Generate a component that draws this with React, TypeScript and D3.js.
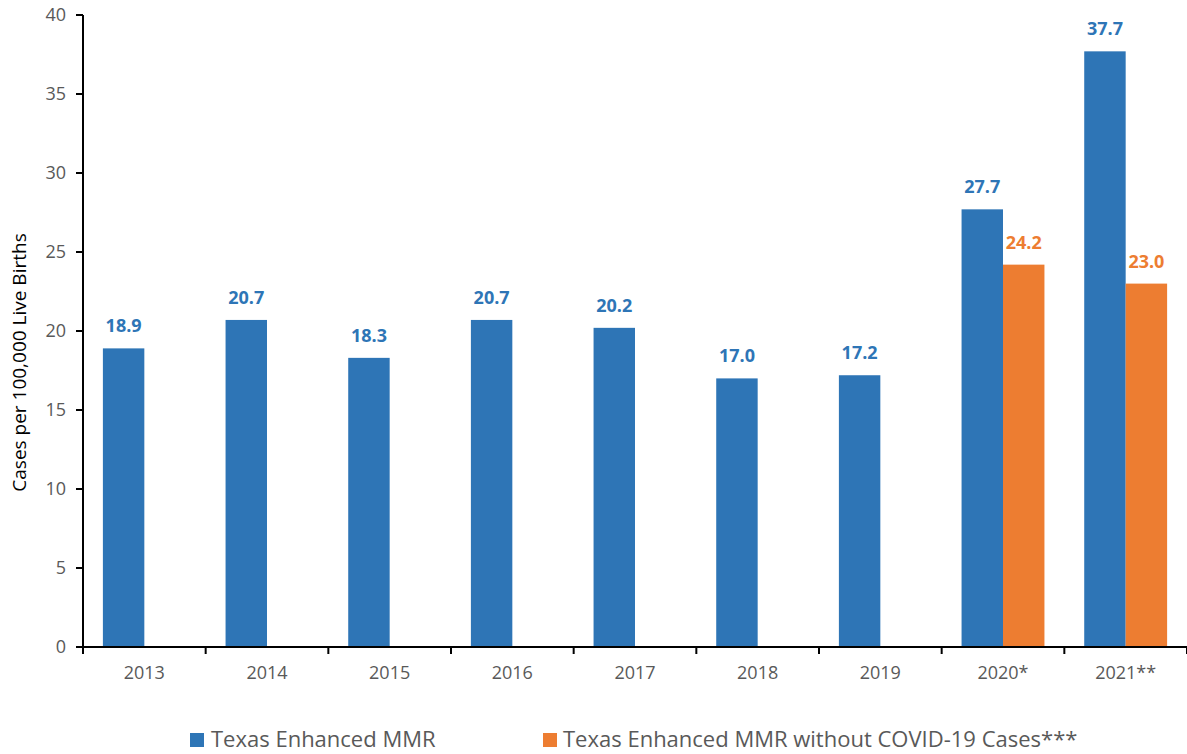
import React from "react";
import * as d3 from "d3";

const years = ["2013", "2014", "2015", "2016", "2017", "2018", "2019", "2020*", "2021**"];
const mmr = [18.9, 20.7, 18.3, 20.7, 20.2, 17.0, 17.2, 27.7, 37.7];
const mmrNoCovid: (number | null)[] = [null, null, null, null, null, null, null, 24.2, 23.0];
const yTicks = [0, 5, 10, 15, 20, 25, 30, 35, 40];
const seriesNames = ["Texas Enhanced MMR", "Texas Enhanced MMR without COVID-19 Cases***"];
const colors = ["#2E75B6", "#ED7D31"];

const W = 1187, H = 754;
const left = 83, right = 1187, top = 15, bottom = 647;
const FONT = "'Open Sans', sans-serif";

export default function App() {
  const x = d3.scaleBand<string>().domain(years).range([left, right]).padding(0);
  const sub = d3.scaleBand<string>().domain(["a", "b"]).range([0, x.bandwidth()]).paddingInner(0).paddingOuter(0.48);
  const y = d3.scaleLinear().domain([0, 40]).range([bottom, top]);
  const series = [mmr, mmrNoCovid];
  const keys = ["a", "b"];
  const boundaries = years.map((c) => x(c)!).concat([right]);

  return (
    <svg width={W} height={H} style={{ position: "absolute", left: 0, top: 0, display: "block" }} fontFamily={FONT}>
      <rect width={W} height={H} fill="#fff" />
      {series.map((vals, si) =>
        vals.map((v, i) =>
          v == null ? null : (
            <g key={`${si}-${i}`}>
              <rect
                x={x(years[i])! + sub(keys[si])!}
                y={y(v)}
                width={sub.bandwidth()}
                height={y(0) - y(v)}
                fill={colors[si]}
              />
              <text
                x={x(years[i])! + sub(keys[si])! + sub.bandwidth() / 2}
                y={y(v) - 16}
                textAnchor="middle"
                fontWeight="bold"
                fontSize={18}
                fill={colors[si]}
              >
                {v.toFixed(1)}
              </text>
            </g>
          )
        )
      )}
      {/* y axis */}
      <line x1={left} x2={left} y1={top} y2={bottom} stroke="#000" strokeWidth={2} />
      {yTicks.map((t) => (
        <g key={t}>
          <line x1={left - 7} x2={left} y1={y(t)} y2={y(t)} stroke="#000" strokeWidth={2} />
          <text x={66} y={y(t)} dy="0.35em" textAnchor="end" fontSize={18} fill="#595959">
            {t}
          </text>
        </g>
      ))}
      {/* x axis */}
      <line x1={left} x2={right} y1={bottom} y2={bottom} stroke="#000" strokeWidth={2} />
      {boundaries.map((b, i) => (
        <line key={i} x1={b} x2={b} y1={bottom} y2={bottom + 7} stroke="#000" strokeWidth={2} />
      ))}
      {years.map((c) => (
        <text key={c} x={x(c)! + x.bandwidth() / 2} y={679} textAnchor="middle" fontSize={18} fill="#595959">
          {c}
        </text>
      ))}
      <text
        transform={`translate(26,${(225 + 500) / 2}) rotate(-90)`}
        textAnchor="middle"
        fontSize={19}
        fill="#000"
      >
        Cases per 100,000 Live Births
      </text>
      {/* legend */}
      <rect x={190} y={733} width={14} height={14} fill={colors[0]} />
      <text x={211} y={747} fontSize={22} fill="#595959">{seriesNames[0]}</text>
      <rect x={543} y={733} width={14} height={14} fill={colors[1]} />
      <text x={563} y={747} fontSize={22} fill="#595959">{seriesNames[1]}</text>
    </svg>
  );
}
